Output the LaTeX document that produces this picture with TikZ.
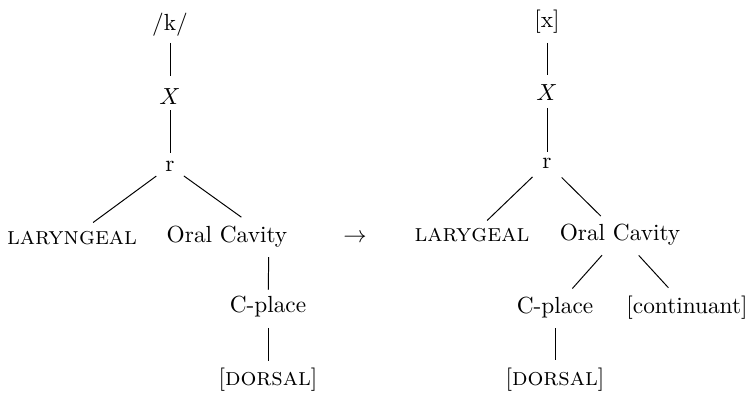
\documentclass[tikz,border=0pt]{standalone}
\newcommand{\featsc}[1]{{\fontsize{10.7}{12}\selectfont\textsc{#1}}}
\begin{document}
\begin{tikzpicture}[x=0.429pt, y=-0.429pt,
  lbl/.style={inner sep=0pt, outer sep=0pt, anchor=center},
  link/.style 2 args={draw, line width=0.42pt, shorten <=#1, shorten >=#2}]
\useasboundingbox (0,0) rectangle (749,392);

% left tree: /k/
\node[lbl] (kL)   at (170,25)  {/k/};
\node[lbl] (XL)   at (170,97)  {$X$};
\node[lbl] (rL)   at (170,166) {r};
\node[lbl] (larL) at (72,238)  {\featsc{laryngeal}};
\node[lbl] (ocL)  at (227,237) {Oral Cavity};
\coordinate (ocLj) at (269,237);
\node[lbl] (cpL)  at (268,307) {C-place};
\node[lbl] (dorL) at (268,380) {[\featsc{dorsal}]};

\draw[link={7.7pt}{9.0pt}] (kL.center) -- (XL.center);
\draw[link={5.6pt}{5.6pt}] (XL.center) -- (rL.center);
\draw[link={7.3pt}{11.2pt}] (rL.center) -- (larL.center);
\draw[link={7.3pt}{14.6pt}] (rL.center) -- (ocLj);
\draw[link={8.6pt}{7.3pt}] (ocLj) -- (cpL.center);
\draw[link={9.0pt}{8.2pt}] (cpL.center) -- (dorL.center);

% rewrite arrow
\node[lbl] (arr) at (355,238) {$\rightarrow$};

% right tree: [x]
\node[lbl] (kR)   at (547,22)  {[x]};
\node[lbl] (XR)   at (547,93)  {$X$};
\node[lbl] (rR)   at (547,163) {r};
\node[lbl] (larR) at (472,235) {\featsc{larygeal}};
\node[lbl] (ocR)  at (620,235) {Oral Cavity};
\node[lbl] (cpR)  at (555,308) {C-place};
\node[lbl] (conR) at (687,308) {[continuant]};
\node[lbl] (dorR) at (555,380) {[\featsc{dorsal}]};

\draw[link={9.0pt}{7.7pt}] (kR.center) -- (XR.center);
\draw[link={6.4pt}{4.7pt}] (XR.center) -- (rR.center);
\draw[link={8.6pt}{9.0pt}] (rR.center) -- (larR.center);
\draw[link={8.8pt}{11.6pt}] (rR.center) -- (ocR.center);
\draw[link={11.6pt}{11.2pt}] (ocR.center) -- (cpR.center);
\draw[link={11.9pt}{11.8pt}] (ocR.center) -- (conR.center);
\draw[link={8.6pt}{8.6pt}] (cpR.center) -- (dorR.center);
\end{tikzpicture}
\end{document}
